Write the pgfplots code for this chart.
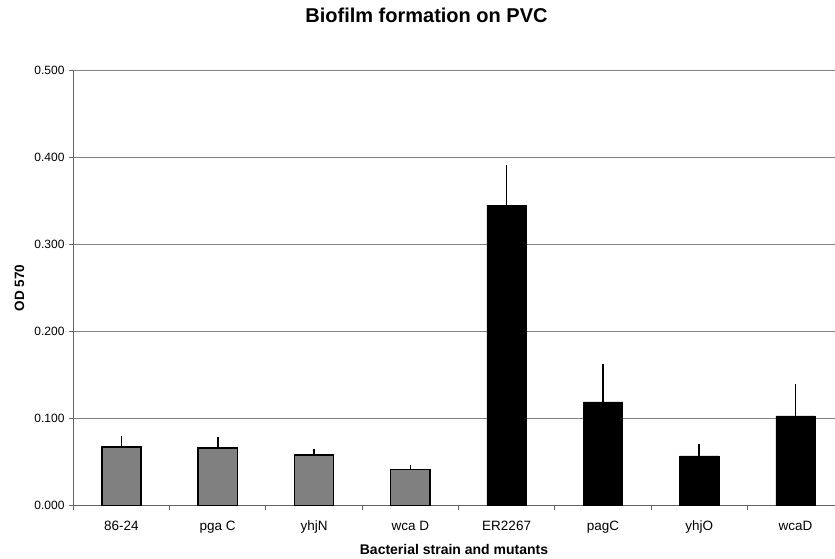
\documentclass[border=0pt]{standalone}
\usepackage{pgfplots}
\pgfplotsset{compat=1.18}
\usepackage{fontspec}
\setmainfont{Liberation Sans}
\definecolor{barg}{RGB}{128,128,128}
\definecolor{gridc}{RGB}{130,130,130}
\definecolor{axc}{RGB}{100,100,100}
\begin{document}
\begin{tikzpicture}
\useasboundingbox (0,0) rectangle (835pt,558pt);
\begin{axis}[
  at={(73.3pt,52.7pt)}, anchor=south west,
  scale only axis, width=761.7pt, height=434.6pt,
  xmin=-0.5, xmax=7.41, ymin=0, ymax=0.5,
  axis lines*=left,
  axis line style={-, draw=axc, line width=1pt},
  tick align=outside,
  major tick length=4.3pt,
  tick style={draw=axc, line width=0.8pt},
  ytick={0,0.1,0.2,0.3,0.4,0.5},
  xtick={-0.5,0.5,1.5,2.5,3.5,4.5,5.5,6.5},
  xticklabels={},
  extra x ticks={0,1,2,3,4,5,6,7},
  extra x tick labels={86-24,pga C,yhjN,wca D,ER2267,pagC,yhjO,wcaD},
  extra x tick style={major tick length=0pt,
    tick label style={yshift=-12pt, font=\fontsize{13.5}{16}\selectfont}},
  yticklabel style={font=\fontsize{12}{14}\selectfont, xshift=-1pt},
  ymajorgrids,
  grid style={draw=gridc, line width=0.9pt},
  /pgf/number format/.cd, fixed, fixed zerofill, precision=3, assume math mode=true,
  /pgfplots/.cd,
  title={Biofilm formation on PVC},
  title style={at={(axis description cs:0.4637,1.1137)}, anchor=center,
    font=\bfseries\fontsize{20}{24}\selectfont},
  xlabel={Bacterial strain and mutants},
  xlabel style={at={(axis description cs:0.4998,-0.1015)}, anchor=center,
    font=\bfseries\fontsize{14}{17}\selectfont},
  ylabel={OD 570},
  ylabel style={at={(axis description cs:-0.0706,0.5)}, anchor=center,
    font=\bfseries\fontsize{13.5}{16}\selectfont},
  ybar, bar width=39.3pt, bar shift=0pt,
]
\addplot[fill=barg, draw=black, line width=1.5pt,
  error bars/.cd, y dir=plus, y explicit, error mark=none,
  error bar style={line width=1.6pt, black}]
  table[x=x, y=y, y error=e] {
x y e
0 0.067 0.013
1 0.066 0.013
2 0.058 0.007
3 0.041 0.005
};
\addplot[fill=black, draw=black, line width=0.5pt,
  error bars/.cd, y dir=plus, y explicit, error mark=none,
  error bar style={line width=1.6pt, black}]
  table[x=x, y=y, y error=e] {
x y e
4 0.345 0.046
5 0.119 0.044
6 0.057 0.014
7 0.103 0.036
};
\end{axis}
\end{tikzpicture}
\end{document}
